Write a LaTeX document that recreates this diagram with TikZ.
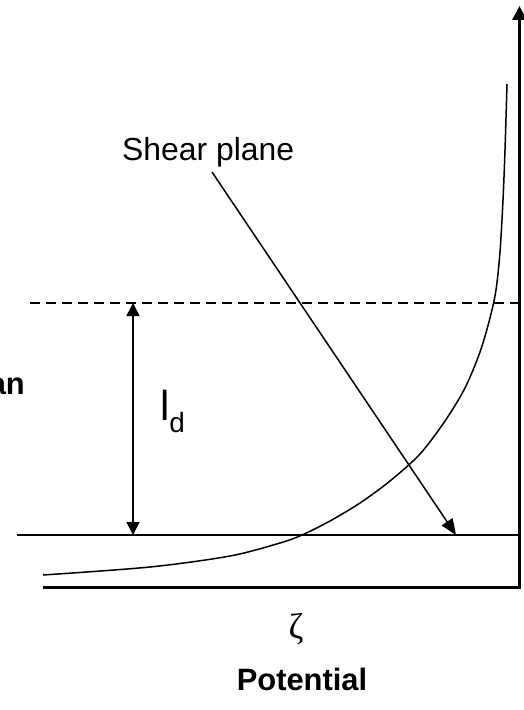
\documentclass[tikz,border=0pt]{standalone}
\usepackage{fontspec}
\setmainfont{Liberation Sans}
\newfontfamily\greekfont{Liberation Serif}
\usetikzlibrary{arrows.meta}
\begin{document}
\begin{tikzpicture}[x=1bp,y=-1bp,
  thinline/.style={line width=1.5bp},
  axisline/.style={line width=3.2bp},
  dimarrow/.style={thinline,{Triangle[width=13bp,length=13bp]}-{Triangle[width=13bp,length=13bp]}},
  pointer/.style={thinline,-{Triangle[width=13bp,length=16bp]}},
  lbl/.style={inner sep=0pt, font=\fontsize{32}{38}\selectfont},
  boldlbl/.style={inner sep=0pt, font=\fontsize{31}{36}\selectfont\bfseries}]
\useasboundingbox (0,0) rectangle (524,710);
% axes
\coordinate (origin) at (519.5,587.5);
\coordinate (xstart) at (43,587.5);
\coordinate (ytop) at (519.5,6);
\draw[axisline,-{Triangle[width=14bp,length=14bp]}] (xstart) -- (origin) -- (ytop);
% thin horizontal line (surface)
\coordinate (surfL) at (17,535);
\coordinate (surfR) at (519,535);
\draw[thinline] (surfL) -- (surfR);
% dashed line
\coordinate (dashL) at (30,303);
\coordinate (dashR) at (524,303);
\draw[thinline,dash pattern=on 10bp off 6bp] (dashL) -- (dashR);
% double arrow l_d
\coordinate (ldtop) at (133,303);
\coordinate (ldbot) at (133,535);
\draw[dimarrow] (ldtop) -- (ldbot);
\node[inner sep=0pt, anchor=base west] (ld) at (160,420)
  {{\fontsize{42}{48}\selectfont l}\raisebox{-12bp}{\fontsize{28}{34}\selectfont d}};
% potential curve
\draw[thinline] plot[smooth, tension=0.5] coordinates {(43,575) (150,567) (230,556) (280,543) (302,535) (330,521) (360,503) (390,481) (420,454) (445,421) (465,388) (480,352) (490,318) (496,290) (500,252) (503,200) (505,150) (507,84)};
% shear plane label and pointer
\node[lbl, anchor=base west] (shear) at (122,160) {Shear plane};
\coordinate (sptail) at (212,172);
\coordinate (sptip) at (456,535);
\draw[pointer] (sptail) -- (sptip);
% partial label at left edge
\node[boldlbl, anchor=base east] (an) at (25,394) {an};
% zeta and Potential
\node[inner sep=0pt, anchor=base, font=\fontsize{36}{42}\selectfont\greekfont] (zeta) at (296,638) {ζ};
\node[boldlbl, anchor=base] (pot) at (302,690) {Potential};
\end{tikzpicture}
\end{document}
